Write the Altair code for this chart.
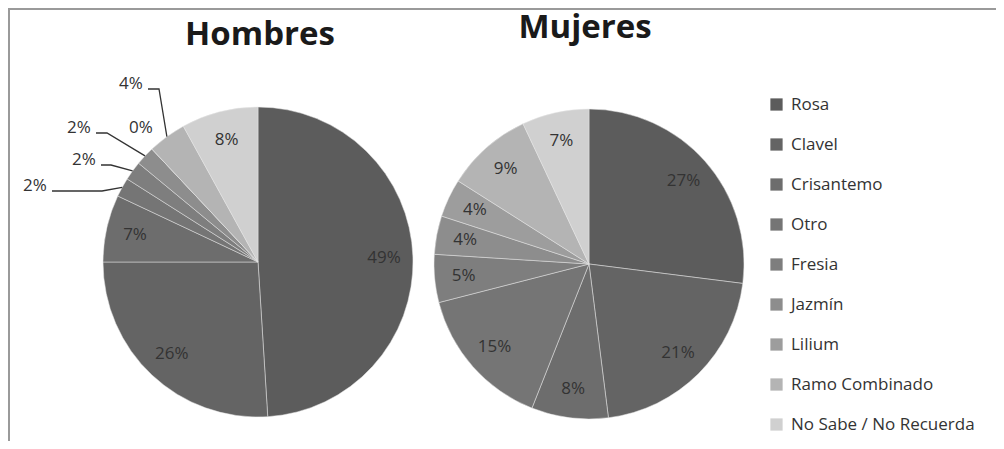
import math
import altair as alt
import pandas as pd

# ---------------- data ----------------
categories = ["Rosa", "Clavel", "Crisantemo", "Otro", "Fresia", "Jazmín",
              "Lilium", "Ramo Combinado", "No Sabe / No Recuerda"]
hombres = [49, 26, 7, 2, 2, 2, 0, 4, 8]
mujeres = [27, 21, 8, 15, 5, 4, 4, 9, 7]
groups = ["Hombres", "Mujeres"]

# ---------------- styling / layout ----------------
grays = ["#5c5c5c", "#646464", "#6d6d6d", "#757575", "#7e7e7e",
         "#8d8d8d", "#9d9d9d", "#b4b4b4", "#d0d0d0"]
W, H = 988, 433
R = 155          # pie radius
LR = 126         # label radius (inside labels)
FONT = "Open Sans"
TXT = "#333333"
centers = {"Hombres": (250, 254), "Mujeres": (581, 256)}
title_pos = {"Hombres": (252, 37), "Mujeres": (577, 30)}
# outside labels of the Hombres pie: offset of label centre from pie centre, leader elbow length
outside = {
    "Otro": ((-223, -76), 50),
    "Fresia": ((-174, -102), 10),
    "Jazmín": ((-179, -134), 11),
    "Lilium": ((-117, -134), None),
    "Ramo Combinado": ((-127, -178), 11),
}

rows = []
for g, vals in (("Hombres", hombres), ("Mujeres", mujeres)):
    for i, (c, v) in enumerate(zip(categories, vals)):
        inside = not (g == "Hombres" and c in outside)
        rows.append(dict(grupo=g, cat=c, idx=i, v=v,
                         inlabel=f"{v}%" if inside else ""))
df = pd.DataFrame(rows)

# outside labels + leader lines (anchored at slice mid-angle on the rim)
cx, cy = centers["Hombres"]
cum = 0
lab_rows, line_rows = [], []
for c, v in zip(categories, hombres):
    mid = (cum + v / 2) / 100 * 2 * math.pi
    cum += v
    if c not in outside:
        continue
    (dx, dy), elbow = outside[c]
    lx, ly = cx + dx, cy + dy
    lab_rows.append(dict(cat=c, x=lx, y=ly, t=f"{v}%"))
    if elbow is not None:
        sx, sy = lx + 17, ly + 5
        ex, ey = cx + R * math.sin(mid), cy - R * math.cos(mid)
        for o, (px, py) in enumerate([(sx, sy), (sx + elbow, sy), (ex, ey)]):
            line_rows.append(dict(cat=c, o=o, x=px, y=py))
lab_df = pd.DataFrame(lab_rows)
line_df = pd.DataFrame(line_rows)

theta = alt.Theta("v:Q", stack=True,
                  scale=alt.Scale(domain=[0, 100], range=[0, 2 * math.pi]))
color_legend = alt.Legend(
    orient="none", legendX=760, legendY=88, title=None,
    symbolType="square", symbolSize=150, symbolStrokeWidth=0,
    labelFont=FONT, labelFontSize=17, labelColor=TXT, labelOffset=6,
    labelLimit=400, rowPadding=22, padding=0,
)

layers = []
for n, g in enumerate(groups):
    gx, gy = centers[g]
    base = alt.Chart(df).transform_filter(alt.datum.grupo == g)
    arcs = base.mark_arc(radius=R, stroke="#e6e6e6", strokeWidth=0.5).encode(
        theta=theta,
        order=alt.Order("idx:Q"),
        color=alt.Color("cat:N", sort=categories,
                        scale=alt.Scale(domain=categories, range=grays),
                        legend=color_legend if n == 0 else None),
        x=alt.value(gx), y=alt.value(gy),
    )
    texts = base.mark_text(radius=LR, font=FONT, fontSize=17, color=TXT).encode(
        theta=theta,
        order=alt.Order("idx:Q"),
        text="inlabel:N",
        x=alt.value(gx), y=alt.value(gy),
    )
    tx, ty = title_pos[g]
    title = alt.Chart(pd.DataFrame({"t": [g]})).mark_text(
        font=FONT, fontSize=33, fontWeight="bold", color="#1a1a1a",
        baseline="alphabetic", align="center",
    ).encode(text="t:N", x=alt.value(tx), y=alt.value(ty))
    layers += [arcs, texts, title]

leaders = alt.Chart(line_df).mark_line(color=TXT, strokeWidth=1.3).encode(
    x=alt.X("x:Q", scale=None), y=alt.Y("y:Q", scale=None),
    detail="cat:N", order="o:Q",
)
out_labels = alt.Chart(lab_df).mark_text(font=FONT, fontSize=17, color=TXT).encode(
    x=alt.X("x:Q", scale=None), y=alt.Y("y:Q", scale=None), text="t:N",
)

one = pd.DataFrame({"a": [0]})
border_top = alt.Chart(one).mark_rule(color="#9a9a9a", strokeWidth=2).encode(
    x=alt.value(0), x2=alt.value(W), y=alt.value(1))
border_left = alt.Chart(one).mark_rule(color="#9a9a9a", strokeWidth=2).encode(
    x=alt.value(1), y=alt.value(0), y2=alt.value(H))

chart = alt.layer(*layers, leaders, out_labels, border_top, border_left).properties(
    width=W, height=H, autosize=alt.AutoSizeParams(type="none"), padding=0,
    background="white",
).configure_view(stroke=None)

chart.save("out.html", embed_options={"renderer": "svg", "actions": False})
